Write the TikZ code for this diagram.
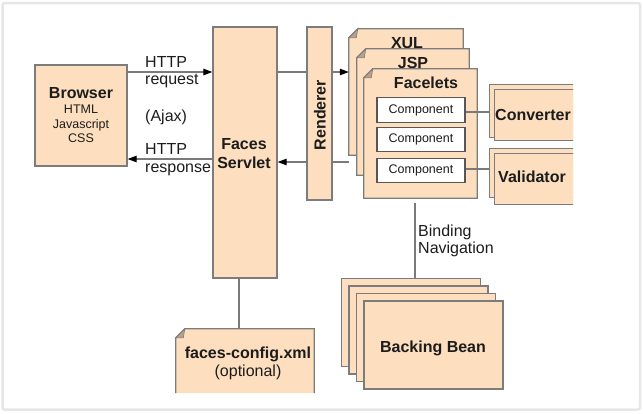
\documentclass[tikz,border=0pt]{standalone}
\usepackage{fontspec}
\setmainfont{Liberation Sans}
\usetikzlibrary{arrows.meta}
\definecolor{peach}{HTML}{FDDFBF}
\definecolor{edgec}{HTML}{7C7C7C}
\definecolor{foldc}{HTML}{B8A089}
\definecolor{wirec}{HTML}{7A7A7A}
\definecolor{framec}{HTML}{E6E6E6}
\definecolor{inkc}{HTML}{1C1C1C}
\newcommand{\docpath}[1]{%
  \draw[box] ([yshift=-9pt]#1.north west) -- ([xshift=9pt]#1.north west) -- (#1.north east) -- (#1.south east) -- (#1.south west) -- cycle;
  \filldraw[foldc,draw=edgec,line width=0.6pt] ([yshift=-9pt]#1.north west) -- ([xshift=9pt]#1.north west) -- ([xshift=7.5pt,yshift=-9pt]#1.north west) -- cycle;}
\begin{document}
\begin{tikzpicture}[x=1pt,y=-1pt,
  box/.style={draw=edgec,fill=peach,line width=1.3pt,inner sep=0pt,rectangle},
  blank/.style={draw=none,inner sep=0pt,rectangle},
  bigr/.style={text=inkc,inner sep=0pt,font=\fontsize{16}{17}\selectfont},
  bigb/.style={text=inkc,inner sep=0pt,font=\bfseries\fontsize{16}{17}\selectfont},
  smallr/.style={text=inkc,inner sep=0pt,font=\fontsize{12.5}{14.5}\selectfont},
  comp/.style={draw=edgec!70!black,fill=white,line width=1.3pt,inner sep=0pt,rectangle,minimum width=88pt,minimum height=24.5pt,text=inkc,font=\fontsize{12.5}{14}\selectfont},
  wire/.style={draw=wirec,line width=1.2pt},
  arr/.style={wire,-{Triangle[length=9pt,width=6.5pt,color=black]}}]
\useasboundingbox (0,0) rectangle (643,413);
\draw[framec,line width=2.5pt,rounded corners=2pt] (2.5,3) rectangle (640,409.5);

% Browser
\node[box,minimum width=92pt,minimum height=101pt] (browser) at (81,115.5) {};
\node[bigb] (browsertitle) at (81,93) {Browser};
\node[smallr,align=center] (browsertext) at (81,124) {HTML\\Javascript\\CSS};

% Faces Servlet
\node[box,minimum width=64pt,minimum height=251pt] (faces) at (245,152.5) {};
\node[bigb,anchor=base] (facesa) at (244,149) {Faces};
\node[bigb,anchor=base] (facesb) at (244,168) {Servlet};

% Renderer
\node[box,minimum width=25pt,minimum height=173pt] (renderer) at (319.5,113.5) {};
\node[bigb,rotate=90] (rendtext) at (320,115) {Renderer};

% documents
\node[blank,minimum width=114pt,minimum height=126pt] (xul) at (406,92) {};
\docpath{xul}
\node[bigb,anchor=base] (xultext) at (407,48) {XUL};
\node[blank,minimum width=112pt,minimum height=126pt] (jsp) at (413,112) {};
\docpath{jsp}
\node[bigb,anchor=base] (jsptext) at (413,68) {JSP};
\node[blank,minimum width=113pt,minimum height=129pt] (facelets) at (420.5,133.5) {};
\docpath{facelets}
\node[bigb,anchor=base] (facetext) at (426,88) {Facelets};

% components
\node[comp] (comp1) at (421,110) {Component};
\node[comp] (comp2) at (421,139.5) {Component};
\node[comp] (comp3) at (421,170.5) {Component};

% Converter / Validator (cut at the right edge)
\begin{scope}
\clip (480,78) rectangle (573,212);
\node[box,minimum width=100pt,minimum height=53pt,anchor=north west] (convback) at (489,84) {};
\node[box,minimum width=100pt,minimum height=51pt,anchor=north west] (convfront) at (494,89) {};
\node[bigb] (convtext) at (533,115) {Converter};
\node[box,minimum width=100pt,minimum height=49pt,anchor=north west] (valback) at (489,148) {};
\node[box,minimum width=100pt,minimum height=51pt,anchor=north west] (valfront) at (494,153) {};
\node[bigb] (valtext) at (532,177) {Validator};
\end{scope}

% connectors
\draw[arr] (browser.east |- 0,72) -- (faces.west |- 0,72);
\draw[arr] (faces.west |- 0,159) -- (browser.east |- 0,159);
\node[bigr,anchor=base west] (httpa) at (145,67) {HTTP};
\node[bigr,anchor=base west] (req) at (145,84.5) {request};
\node[bigr,anchor=base west] (ajax) at (145,121) {(Ajax)};
\node[bigr,anchor=base west] (httpb) at (145,154) {HTTP};
\node[bigr,anchor=base west] (resp) at (145,172) {response};

\draw[wire] (faces.east |- 0,72) -- (renderer.west |- 0,72);
\draw[arr] (renderer.east |- 0,72) -- (xul.west |- 0,72);
\draw[wire] (xul.west |- 0,162) -- (renderer.east |- 0,162);
\draw[arr] (renderer.west |- 0,162) -- (faces.east |- 0,162);

\draw[wire] (comp1.east |- 0,112) -- (convback.west |- 0,112);
\draw[wire] (comp3.east |- 0,169) -- (valback.west |- 0,169);

% Backing Bean stack
\node[box,minimum width=139pt,minimum height=88pt] (bb1) at (411,322.5) {};
\node[box,minimum width=139pt,minimum height=88pt] (bb2) at (418.5,330) {};
\node[box,minimum width=139pt,minimum height=88pt] (bb3) at (426,337.5) {};
\node[box,minimum width=139pt,minimum height=88pt] (bb4) at (433.5,345) {};
\node[bigb,anchor=base] (bbtext) at (433,352) {Backing Bean};

\coordinate (bindtop) at (415,203);
\draw[wire] (bindtop) -- (bindtop |- bb1.north);
\node[bigr,anchor=base west] (binding) at (418,236.5) {Binding};
\node[bigr,anchor=base west] (navig) at (418,253.5) {Navigation};

% faces-config.xml
\node[blank,minimum width=138pt,minimum height=64pt] (config) at (245,361) {};
\fill[peach] ([yshift=-9pt]config.north west) -- ([xshift=9pt]config.north west) -- (config.north east) -- (config.south east) -- (config.south west) -- cycle;
\draw[edgec,line width=1.3pt] (config.south west) -- ([yshift=-9pt]config.north west) -- ([xshift=9pt]config.north west) -- (config.north east) -- (config.south east);
\filldraw[foldc,draw=edgec,line width=0.6pt] ([yshift=-9pt]config.north west) -- ([xshift=9pt]config.north west) -- ([xshift=7.5pt,yshift=-9pt]config.north west) -- cycle;
\node[bigb,anchor=base] (configa) at (248,358) {faces-config.xml};
\node[bigr,anchor=base] (configb) at (248,376.5) {(optional)};
\draw[wire] (faces.south -| 239,0) -- (config.north -| 239,0);
\end{tikzpicture}
\end{document}
